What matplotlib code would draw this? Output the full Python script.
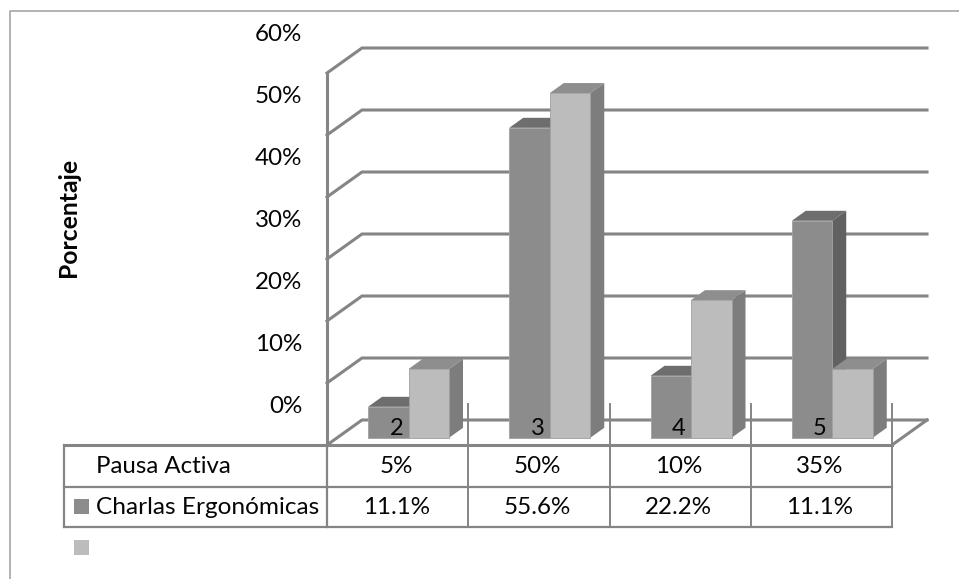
import matplotlib
matplotlib.use("Agg")
import matplotlib.pyplot as plt

# Datos del grafico
categorias = ["2", "3", "4", "5"]
pausa_activa = [5, 50, 10, 35]
charlas = [11.1, 55.6, 22.2, 11.1]
etiquetas_pausa = ["5%", "50%", "10%", "35%"]
etiquetas_charlas = ["11.1%", "55.6%", "22.2%", "11.1%"]
ticks_y = [0, 10, 20, 30, 40, 50, 60]

# Escala: una categoria = 141.25 px, 1% = 6.2 px, origen en el pixel (327, 445)
PX_X = 141.25
PX_Y = 6.2
X0, Y0 = 327, 445
W, H = 959, 579

plt.rcParams["font.family"] = ["Lato", "DejaVu Sans"]
fig = plt.figure(figsize=(W / 100, H / 100), dpi=100)
ax = fig.add_axes([0, 0, 1, 1])
ax.set_xlim(-X0 / PX_X, (W - X0) / PX_X)
ax.set_ylim((Y0 - H) / PX_Y, Y0 / PX_Y)
ax.axis("off")

# Profundidad del piso y de las barras, en unidades de datos
prof_x, prof_y = 35 / PX_X, 25 / PX_Y
bar_dx, bar_dy = 14 / PX_X, 10 / PX_Y
base_y = 7.2 / PX_Y
bar_w = 40.5 / PX_X
margen = 41 / PX_X
n = len(categorias)
GRIS = "#858585"
TEXTO = "#050505"
baja = -1 / PX_Y  # ajuste vertical del texto de la tabla

# Paredes y lineas de la cuadricula
for t in ticks_y:
    ax.plot([0, prof_x, n + prof_x], [t, t + prof_y, t + prof_y], color=GRIS, lw=2.2,
            solid_joinstyle="miter", zorder=1)
    ax.text(-25 / PX_X, t + 6.15, f"{t}%", ha="right", va="center", fontsize=17.4, color=TEXTO)
ax.plot([0, 0], [0, ticks_y[-1]], color=GRIS, lw=2.2, zorder=1)
ax.plot([n, n + prof_x], [0, prof_y], color=GRIS, lw=2.2, zorder=1)


def barra_3d(x, valor, frente, arriba, lado, z):
    y0 = base_y
    y1 = base_y + valor
    ax.bar(x, valor, width=bar_w, bottom=y0, align="edge", color=frente, edgecolor="#a0a0a0",
           linewidth=0.6, zorder=z + 0.2)
    ax.fill([x, x + bar_w, x + bar_w + bar_dx, x + bar_dx], [y1, y1, y1 + bar_dy, y1 + bar_dy],
            color=arriba, lw=0, zorder=z)
    ax.fill([x + bar_w, x + bar_w + bar_dx, x + bar_w + bar_dx, x + bar_w],
            [y0, y0 + bar_dy, y1 + bar_dy, y1], color=lado, lw=0, zorder=z)


for i in range(n):
    barra_3d(i + margen, pausa_activa[i], "#8c8c8c", "#6e6e6e", "#616161", 3)
    barra_3d(i + margen + bar_w, charlas[i], "#bcbcbc", "#8e8e8e", "#7d7d7d", 4)
    ax.text(i + 0.49, 2.7, categorias[i], ha="center", va="center", fontsize=17, color=TEXTO, zorder=6)

# Tabla de datos
y_fila0 = 0
y_fila1 = -41.7 / PX_Y
y_fila2 = -82 / PX_Y
x_tabla = (63.5 - X0) / PX_X
tick_arriba = 41 / PX_Y
ax.plot([x_tabla, n], [y_fila0, y_fila0], color=GRIS, lw=2.2, zorder=5)
ax.plot([x_tabla, n], [y_fila1, y_fila1], color=GRIS, lw=1.6, zorder=5)
ax.plot([x_tabla, n], [y_fila2, y_fila2], color=GRIS, lw=1.6, zorder=5)
ax.plot([x_tabla, x_tabla], [y_fila0, y_fila2], color=GRIS, lw=1.6, zorder=5)
ax.plot([0, 0], [y_fila0, y_fila2], color=GRIS, lw=1.6, zorder=5)
for i in range(1, n + 1):
    ax.plot([i, i], [tick_arriba, y_fila2], color=GRIS, lw=1.4, zorder=5)
for i in range(n):
    ax.text(i + 0.49, (y_fila0 + y_fila1) / 2 + baja, etiquetas_pausa[i], ha="center", va="center",
            fontsize=17.4, color=TEXTO)
    ax.text(i + 0.49, (y_fila1 + y_fila2) / 2 + baja, etiquetas_charlas[i], ha="center", va="center",
            fontsize=17.4, color=TEXTO)

x_texto = (96 - X0) / PX_X
ax.text(x_texto, (y_fila0 + y_fila1) / 2 + baja, "Pausa Activa", ha="left", va="center", fontsize=17.3, color=TEXTO)
ax.text(x_texto, (y_fila1 + y_fila2) / 2 + baja, "Charlas Ergonómicas", ha="left", va="center", fontsize=17.6, color=TEXTO)

# Cuadros de la leyenda
lado_x, lado_y = 15 / PX_X, 15 / PX_Y
x_ley = (74 - X0) / PX_X
ax.bar(x_ley, lado_y, width=lado_x, bottom=(Y0 - 514) / PX_Y, align="edge", color="#8c8c8c", zorder=5)
ax.bar(x_ley, lado_y, width=lado_x, bottom=(Y0 - 555) / PX_Y, align="edge", color="#bcbcbc", zorder=5)

# Titulo del eje y marco
ax.text((69 - X0) / PX_X, (Y0 - 217) / PX_Y, "Porcentaje", rotation=90, ha="center", va="center",
        fontsize=17.8, fontweight="bold", color=TEXTO)
x_marco = (9.5 - X0) / PX_X
y_marco = (Y0 - 11) / PX_Y
x_der = (W - X0) / PX_X
y_inf = (Y0 - H) / PX_Y
ax.plot([x_marco, x_marco, x_der], [y_inf, y_marco, y_marco], color="#a6a6a6", lw=1.2)

fig.savefig("out.png", dpi=100)
